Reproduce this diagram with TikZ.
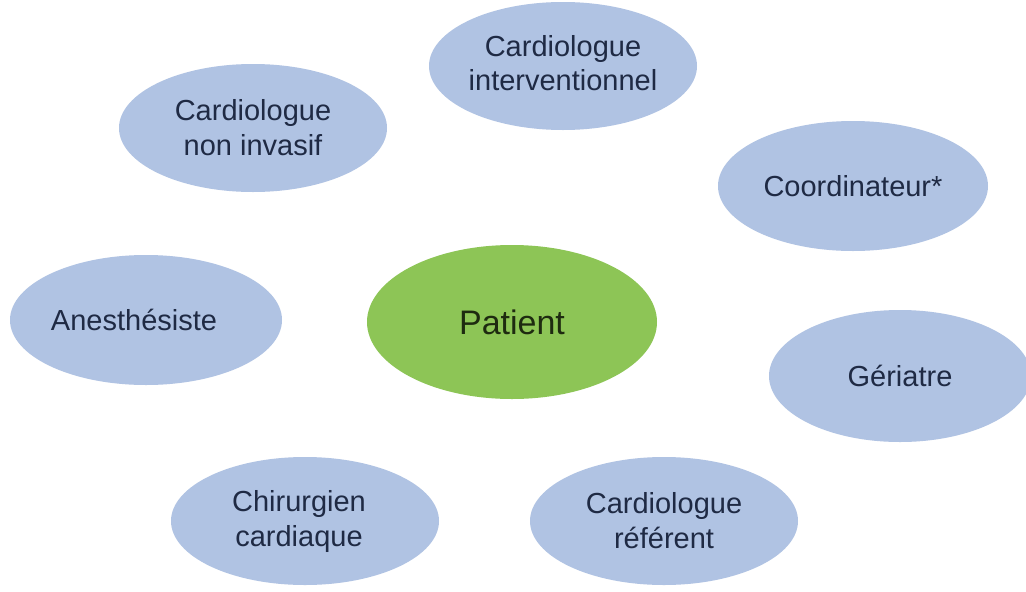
\documentclass[tikz,border=0pt]{standalone}
\usepackage{fontspec}
\setmainfont{Liberation Sans}
\usetikzlibrary{shapes.geometric}
\definecolor{roleFill}{HTML}{B0C3E3}
\definecolor{patFill}{HTML}{8DC556}
\definecolor{roleText}{HTML}{1F2A44}
\definecolor{patText}{HTML}{1E2B10}
\begin{document}
\begin{tikzpicture}[x=1pt,y=-1pt,
  role/.style={ellipse, fill=roleFill, draw=none, minimum width=268pt, minimum height=128pt,
    inner sep=0pt, align=center, font=\fontsize{29}{35}\selectfont, text=roleText},
  patient/.style={role, fill=patFill, minimum width=290pt, minimum height=154pt, text=patText,
    font=\fontsize{34}{40}\selectfont}]
\useasboundingbox (0,0) rectangle (1026,592);
\fill[white] (0,0) rectangle (1026,592);
\node[role] (interv) at (563,66) {\raisebox{6pt}{\begin{tabular}{@{}c@{}}Cardiologue\\[-1pt]interventionnel\end{tabular}}};
\node[role] (noninv) at (253,128) {Cardiologue\\non invasif};
\node[role, minimum width=270pt, minimum height=130pt] (coord) at (853,186) {Coordinateur*};
\node[role, minimum width=272pt, minimum height=130pt] (anest) at (146,320) {\hspace*{-24pt}Anesthésiste};
\node[patient] (pat) at (512,322) {Patient};
\node[role, minimum width=262pt, minimum height=132pt] (geri) at (900,376) {Gériatre};
\node[role] (chir) at (305,521) {\hspace*{-12pt}Chirurgien\\\hspace*{-12pt}cardiaque};
\node[role] (refer) at (664,521) {Cardiologue\\référent};
\end{tikzpicture}
\end{document}
